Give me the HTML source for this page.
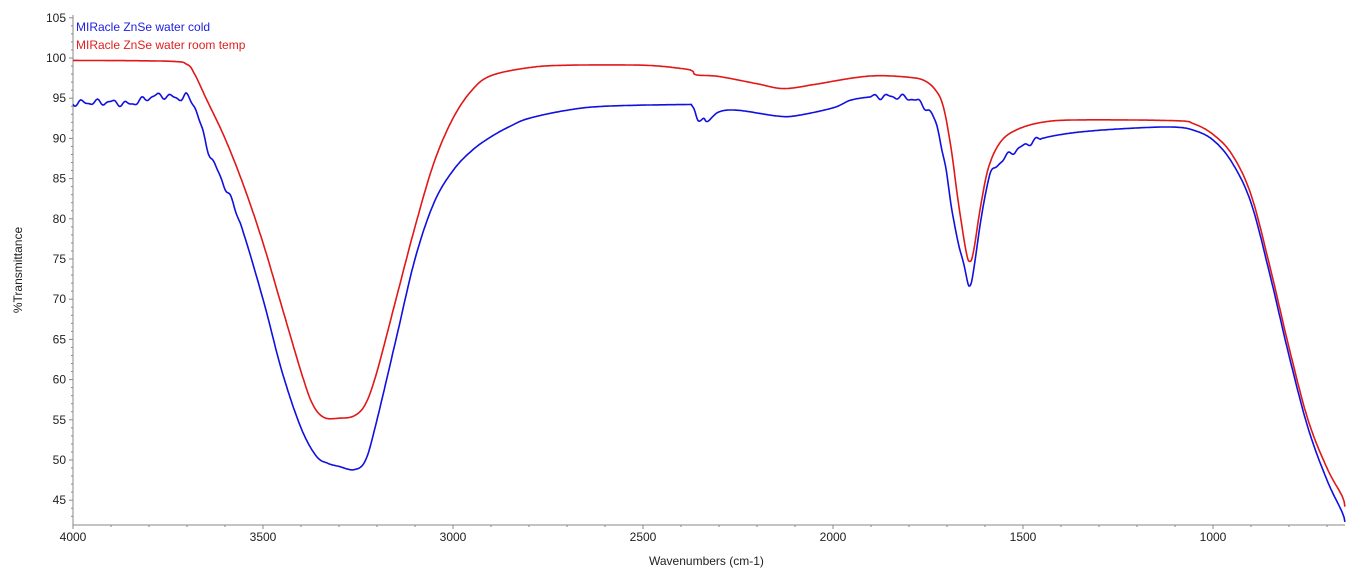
<!DOCTYPE html>
<html><head><meta charset="utf-8"><style>
html,body{margin:0;padding:0;background:#fff;width:1367px;height:587px;overflow:hidden}
svg{display:block;font-family:"Liberation Sans",sans-serif}
</style></head><body>
<svg id="s" width="1367" height="587" viewBox="0 0 1367 587">
<g id="ax" stroke="#888" stroke-width="1"></g>
<g id="lbl" font-size="12" fill="#222"></g>
<text x="649" y="565" font-size="12" fill="#222">Wavenumbers (cm-1)</text>
<text transform="translate(22,270) rotate(-90)" text-anchor="middle" font-size="12" fill="#222">%Transmittance</text>
<text x="76" y="31" font-size="12" fill="#2020e0">MIRacle ZnSe water cold</text>
<text x="76" y="49" font-size="12" fill="#e02020">MIRacle ZnSe water room temp</text>
<path id="red" fill="none" stroke="#e01818" stroke-width="1.6"/>
<path id="blue" fill="none" stroke="#1010e0" stroke-width="1.6"/>
</svg>
<script>
const X=w=>73+(4000-w)*0.38, Y=v=>58+(100-v)*8.04;
const ax=document.getElementById('ax'),lb=document.getElementById('lbl');
let h='';
h+=`<line x1="73" y1="15" x2="73" y2="525"/><line x1="73" y1="525" x2="1345" y2="525"/>`;
for(let v=43;v<=105;v++){let y=Y(v);if(y>525)continue;h+=`<line x1="${v%5?71:69}" y1="${y}" x2="73" y2="${y}"/>`;}
for(let w=4000;w>=660;w-=100){let x=X(w);h+=`<line x1="${x}" y1="525" x2="${x}" y2="${w%500?527:529}"/>`;}
ax.innerHTML=h;h='';
for(let v=45;v<=105;v+=5)h+=`<text x="66" y="${Y(v)+4}" text-anchor="end">${v}</text>`;
for(let w=4000;w>=1000;w-=500)h+=`<text x="${X(w)}" y="541" text-anchor="middle">${w}</text>`;
lb.innerHTML=h;
const R=[[4000,99.7],[3750,99.6],[3700,99.2],[3680,98],[3650,95],[3600,90],[3550,84],[3500,77],[3450,69],[3400,61],[3370,57],[3340,55.3],[3300,55.2],[3260,55.5],[3230,57],[3200,61],[3150,70],[3100,79],[3050,87],[3000,92.5],[2950,96],[2900,97.8],[2800,98.8],[2700,99.1],[2500,99.1],[2400,98.7],[2370,98.4],[2360,97.9],[2300,97.7],[2200,96.8],[2130,96.2],[2050,96.7],[1950,97.5],[1880,97.8],[1800,97.6],[1760,97.2],[1730,96],[1710,94],[1690,89],[1670,82],[1650,76],[1640,74.7],[1630,76],[1610,82],[1590,86.5],[1560,89.5],[1520,91],[1450,92],[1350,92.3],[1100,92.2],[1050,91.8],[1000,90.5],[950,88],[900,83],[850,74],[800,64],[750,55],[700,49],[660,45.5],[653,44.2]];
const B=[[4000,94.4],[3900,94.5],[3850,94.3],[3780,95.3],[3720,95],[3700,95.2],[3680,94],[3660,91],[3640,88],[3600,84],[3560,79.5],[3500,70],[3450,61],[3400,54],[3360,50.5],[3330,49.6],[3300,49.2],[3260,48.8],[3230,50],[3200,55],[3150,65],[3100,75],[3050,82],[3000,86],[2950,88.5],[2900,90.2],[2850,91.5],[2800,92.5],[2700,93.5],[2600,94],[2400,94.2],[2370,94],[2355,92.2],[2340,92.5],[2330,92.1],[2300,93.3],[2250,93.5],[2150,92.8],[2100,92.8],[2000,93.8],[1950,94.8],[1880,95.2],[1800,95],[1760,94],[1730,92],[1710,88],[1690,82],[1670,77],[1650,73],[1640,72],[1630,73.5],[1610,80],[1590,85],[1550,87.5],[1500,89],[1450,90],[1350,90.8],[1200,91.3],[1100,91.4],[1050,91],[1000,89.8],[950,87],[900,82],[850,73],[800,63],[750,54],[700,47.5],[660,43.5],[653,42.3]];
function build(P,noise){let d='';
for(let i=0;i<P.length-1;i++){const p0=P[Math.max(0,i-1)],p1=P[i],p2=P[i+1],p3=P[Math.min(P.length-1,i+2)];
const n=Math.max(2,Math.ceil((p1[0]-p2[0])/3));
for(let k=0;k<n;k++){const t=k/n,t2=t*t,t3=t2*t;
const f=(a,b,c,e)=>0.5*(2*b+(-a+c)*t+(2*a-5*b+4*c-e)*t2+(-a+3*b-3*c+e)*t3);
let w=f(p0[0],p1[0],p2[0],p3[0]),v=f(p0[1],p1[1],p2[1],p3[1]);
if(noise){let a=0;if(w>3560)a=0.28;else if(w<1900&&w>1450)a=0.25;
v+=a*(Math.sin(w*0.16)+0.5*Math.sin(w*0.27+1));}
d+=(d?'L':'M')+X(w).toFixed(1)+','+Y(v).toFixed(1);}}
const l=P[P.length-1];d+='L'+X(l[0]).toFixed(1)+','+Y(l[1]).toFixed(1);return d;}
document.getElementById('red').setAttribute('d',build(R,false));
document.getElementById('blue').setAttribute('d',build(B,true));
</script>
</body></html>
